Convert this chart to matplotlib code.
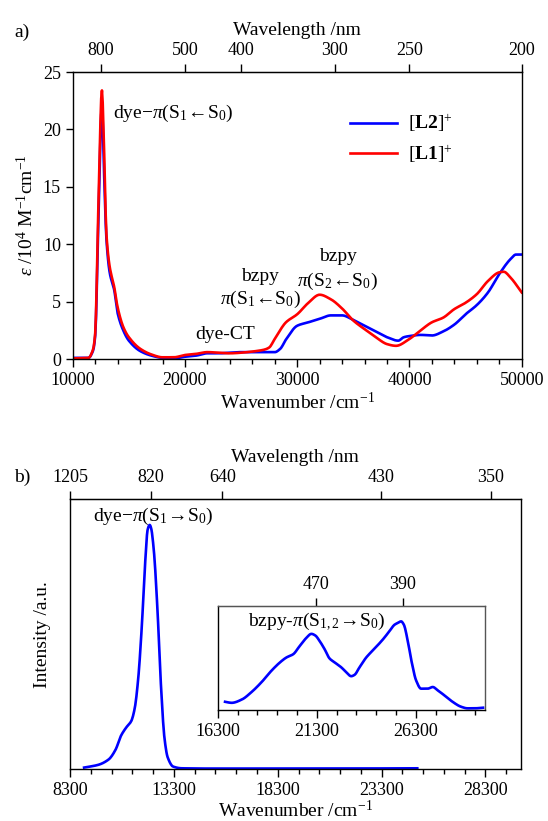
import numpy as np
import matplotlib
matplotlib.use('Agg')
import matplotlib.pyplot as plt
from matplotlib.ticker import MultipleLocator, FixedLocator, NullLocator

plt.rcParams['font.family'] = ['Liberation Serif', 'DejaVu Serif']
plt.rcParams['mathtext.fontset'] = 'custom'
plt.rcParams['mathtext.rm'] = 'Liberation Serif'
plt.rcParams['mathtext.it'] = 'Liberation Serif:italic'
plt.rcParams['mathtext.bf'] = 'Liberation Serif:bold'
plt.rcParams['font.size'] = 14
plt.rcParams['xtick.labelsize'] = 13
plt.rcParams['ytick.labelsize'] = 13

# a) absorption, wavenumber /cm-1 vs epsilon /1e4 M-1 cm-1
wn_red = [10000, 11400, 11800, 12000, 12300, 12600, 12800, 13000, 13300, 13700, 14000, 14500, 15000,
          16000, 17000, 18000, 19000, 20000, 21000, 22000, 23000, 24000, 25000, 26000, 27000, 27500,
          28000, 29000, 30000, 31000, 32000, 33000, 34000, 35000, 36000, 37000, 38000, 38800, 40000,
          41000, 42000, 43000, 44000, 45000, 46000, 47000, 48000, 48400, 49000, 50000]
eps_red = [0.05, 0.1, 0.8, 2.2, 13.8, 23.4, 18.0, 10.9, 8.0, 6.25, 4.5, 2.8, 1.9,
           0.9, 0.4, 0.15, 0.15, 0.35, 0.45, 0.6, 0.55, 0.5, 0.55, 0.65, 0.8, 1.0,
           1.75, 3.2, 3.9, 4.9, 5.6, 5.2, 4.4, 3.35, 2.6, 1.9, 1.3, 1.15, 1.75,
           2.5, 3.2, 3.6, 4.35, 4.9, 5.65, 6.8, 7.55, 7.6, 7.1, 5.8]

wn_blue = [10000, 11400, 11800, 12000, 12300, 12600, 12800, 13000, 13300, 13700, 14000, 14500, 15000,
           16000, 17000, 18000, 19000, 20000, 21000, 22000, 23000, 24000, 25000, 26000, 27000, 28000,
           28500, 29000, 30000, 31000, 32000, 33000, 34000, 35000, 36000, 37000, 38000, 39000, 39500,
           40000, 41000, 42000, 43000, 44000, 45000, 46000, 47000, 48000, 49000, 49500, 50000]
eps_blue = [0.1, 0.1, 0.7, 2.0, 12.5, 22.0, 16.0, 10.5, 7.5, 6.0, 4.0, 2.5, 1.6,
            0.7, 0.3, 0.1, 0.05, 0.2, 0.3, 0.5, 0.5, 0.55, 0.6, 0.6, 0.6, 0.6,
            0.9, 1.7, 2.9, 3.2, 3.5, 3.8, 3.8, 3.4, 2.9, 2.4, 1.9, 1.6, 1.9,
            2.0, 2.1, 2.05, 2.4, 3.0, 3.9, 4.7, 5.8, 7.4, 8.7, 9.1, 9.1]

# b) emission, main trace
wn_em = [8970, 9645, 10150, 10485, 10740, 10990, 11240, 11410, 11580, 11745, 11915, 12030, 12130,
         12200, 12335, 12500, 12670, 12840, 13000, 13260, 13680, 15000, 18000, 21000, 25020]
int_em = [0.007, 0.018, 0.04, 0.08, 0.136, 0.17, 0.197, 0.25, 0.374, 0.578, 0.85, 0.98, 1.0,
          0.986, 0.89, 0.66, 0.347, 0.129, 0.048, 0.011, 0.004, 0.003, 0.003, 0.003, 0.004]

# b) inset, bzpy emission
wn_ins = [16670, 17005, 17510, 18010, 18515, 19020, 19440, 19770, 20110, 20440, 20780, 21030, 21230,
          21450, 21700, 21950, 22210, 22540, 22790, 23040, 23210, 23460, 23800, 24220, 24640, 24970,
          25230, 25390, 25560, 25700, 25900, 26100, 26320, 26570, 26900, 27160, 27410, 27740, 28160,
          28580, 28920, 29250, 29700]
int_ins = [0.079, 0.069, 0.10, 0.173, 0.268, 0.379, 0.457, 0.505, 0.536, 0.615, 0.694, 0.732, 0.716,
           0.662, 0.584, 0.495, 0.457, 0.41, 0.363, 0.325, 0.338, 0.41, 0.505, 0.59, 0.678, 0.757,
           0.82, 0.836, 0.852, 0.82, 0.662, 0.457, 0.284, 0.205, 0.205, 0.221, 0.189, 0.142, 0.079,
           0.032, 0.016, 0.016, 0.022]

top_a = [800, 500, 400, 300, 250, 200]
top_b = [1205, 820, 640, 430, 350]
top_ins = [470, 390]


def smooth(x, y, n=600):
    # monotone-ish cubic through read points
    x = np.asarray(x, float)
    y = np.asarray(y, float)
    xs = np.linspace(x[0], x[-1], n)
    h = np.diff(x)
    d = np.diff(y) / h
    m = np.zeros_like(y)
    m[1:-1] = np.where(d[:-1] * d[1:] > 0, 2 / (1 / d[:-1] + 1 / d[1:]), 0)
    m[0], m[-1] = d[0], d[-1]
    i = np.clip(np.searchsorted(x, xs) - 1, 0, len(h) - 1)
    t = (xs - x[i]) / h[i]
    ys = ((2*t**3 - 3*t**2 + 1) * y[i] + (t**3 - 2*t**2 + t) * h[i] * m[i]
          + (-2*t**3 + 3*t**2) * y[i+1] + (t**3 - t**2) * h[i] * m[i+1])
    return xs, ys


def inv(x):
    x = np.asarray(x, float)
    with np.errstate(divide='ignore'):
        return 1e7 / np.where(x == 0, 1e-9, x)


def style(ax, spine_lw=1.0):
    for s in ax.spines.values():
        s.set_linewidth(spine_lw)
    ax.tick_params(axis='x', which='major', direction='out', length=6, width=1.0, top=False)
    ax.tick_params(axis='x', which='minor', direction='out', length=3.5, width=1.0, top=False)


fig = plt.figure(figsize=(5.48, 8.21), dpi=100)

# ---------- panel a ----------
ax1 = fig.add_axes([0.1327, 0.5627, 0.8193, 0.3496])
ax1.plot(*smooth(wn_blue, eps_blue), color='#0000ff', lw=1.9, label=r'[$\mathbf{L2}$]$^{+}$')
ax1.plot(*smooth(wn_red, eps_red), color='#ff0000', lw=1.9, label=r'[$\mathbf{L1}$]$^{+}$')
ax1.set_xlim(10000, 50000)
ax1.set_ylim(0, 25)
ax1.xaxis.set_major_locator(MultipleLocator(10000))
ax1.xaxis.set_minor_locator(MultipleLocator(2000))
ax1.yaxis.set_major_locator(MultipleLocator(5))
style(ax1)
ax1.tick_params(axis='y', direction='out', length=5, width=1.0, right=False)
ax1.set_xlabel(r'Wavenumber /cm$^{-1}$', labelpad=2)
ax1.set_ylabel(r'$\varepsilon$ /10$^{4}$ M$^{-1}$cm$^{-1}$', labelpad=4)

sec1 = ax1.secondary_xaxis('top', functions=(inv, inv))
sec1.xaxis.set_major_locator(FixedLocator(top_a))
sec1.xaxis.set_minor_locator(NullLocator())
sec1.tick_params(direction='out', length=6, width=1.0)
sec1.set_xticklabels([str(v) for v in top_a])
sec1.set_xlabel('Wavelength /nm', labelpad=5)

ax1.legend(loc='upper left', bbox_to_anchor=(0.6, 0.885), frameon=False,
           handlelength=2.4, labelspacing=0.45, handletextpad=0.6, borderaxespad=0)

ax1.text(13600, 21.4, r'dye$-\pi$(S$_1\!\leftarrow\!$S$_0$)', ha='left', va='center')
ax1.text(26700, 7.2, 'bzpy', ha='center', va='center')
ax1.text(26700, 5.2, r'$\pi$(S$_1\!\leftarrow\!$S$_0$)', ha='center', va='center')
ax1.text(23600, 2.1, 'dye-CT', ha='center', va='center')
ax1.text(33600, 8.9, 'bzpy', ha='center', va='center')
ax1.text(33600, 6.8, r'$\pi$(S$_2\!\leftarrow\!$S$_0$)', ha='center', va='center')
fig.text(0.026, 1 - 32 / 821, 'a)', ha='left', va='center')

# ---------- panel b ----------
ax2 = fig.add_axes([0.1277, 0.0630, 0.8224, 0.3289])
ax2.plot(*smooth(wn_em, int_em), color='#0000ff', lw=1.9)
ax2.set_xlim(8290, 30000)
ax2.set_ylim(0, 1.105)
ax2.xaxis.set_major_locator(FixedLocator([8300, 13300, 18300, 23300, 28300]))
ax2.xaxis.set_minor_locator(FixedLocator(np.arange(8300, 30001, 1000)))
ax2.set_yticks([])
style(ax2)
ax2.set_xlabel(r'Wavenumber /cm$^{-1}$', labelpad=0)
ax2.set_ylabel('Intensity /a.u.', labelpad=14)
ax2.text(12280, 1.036, r'dye$-\pi$(S$_1\!\rightarrow\!$S$_0$)', ha='center', va='center')

sec2 = ax2.secondary_xaxis('top', functions=(inv, inv))
sec2.xaxis.set_major_locator(FixedLocator(top_b))
sec2.xaxis.set_minor_locator(NullLocator())
sec2.tick_params(direction='out', length=6, width=1.0)
sec2.set_xticklabels([str(v) for v in top_b])
sec2.set_xlabel('Wavelength /nm', labelpad=5)
fig.text(0.026, 1 - 477 / 821, 'b)', ha='left', va='center')

# ---------- inset ----------
ax3 = fig.add_axes([0.3973, 0.1352, 0.4878, 0.1267])
ax3.plot(*smooth(wn_ins, int_ins), color='#0000ff', lw=1.9)
ax3.set_xlim(16300, 29800)
ax3.set_ylim(0, 1)
ax3.xaxis.set_major_locator(FixedLocator([16300, 21300, 26300]))
ax3.xaxis.set_minor_locator(FixedLocator(np.arange(16300, 29801, 1000)))
ax3.set_yticks([])
style(ax3)
for s in ('top', 'right'):
    ax3.spines[s].set_color('#555555')
ax3.text(17810, 0.85, r'bzpy-$\pi$(S$_{1,2}\!\rightarrow\!$S$_0$)', ha='left', va='center')

sec3 = ax3.secondary_xaxis('top', functions=(inv, inv))
sec3.xaxis.set_major_locator(FixedLocator(top_ins))
sec3.xaxis.set_minor_locator(NullLocator())
sec3.tick_params(direction='out', length=6, width=1.0)
sec3.set_xticklabels([str(v) for v in top_ins])
sec3.spines['top'].set_color('#555555')

fig.savefig('out.png', dpi=100)
